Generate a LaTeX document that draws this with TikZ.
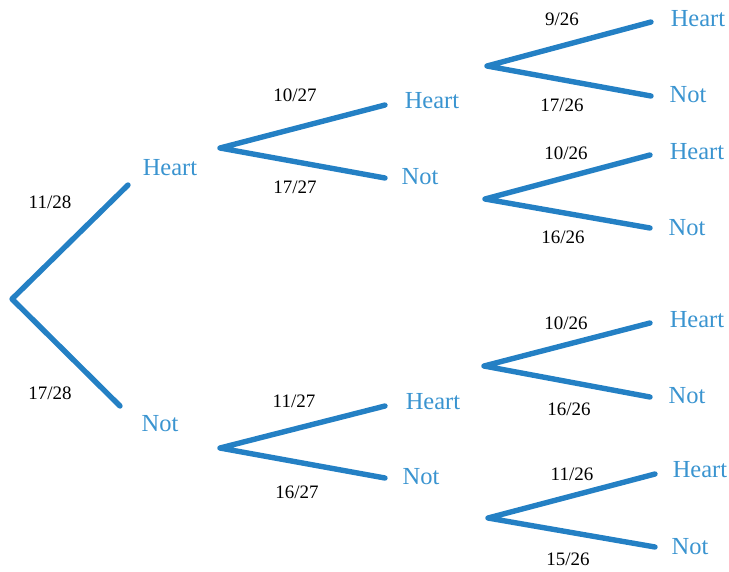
\documentclass[tikz,border=0pt]{standalone}
\usepackage{fontspec}
\setmainfont{Liberation Serif}
\definecolor{branch}{RGB}{36,128,196}
\definecolor{outc}{RGB}{58,148,208}
\begin{document}
\begin{tikzpicture}[x=1pt,y=-1pt,
  br/.style={draw=branch,line width=5.4pt,line cap=round,line join=round},
  outcome/.style={text=outc,font=\fontsize{24.5}{24.5}\selectfont,inner sep=0pt},
  prob/.style={text=black,font=\fontsize{19}{19}\selectfont,inner sep=0pt}]
\useasboundingbox (0,0) rectangle (729,571);
% level 1
\coordinate (r) at (12,299);
\coordinate (h1) at (128,185);
\coordinate (n1) at (120,406);
\draw[br] (h1) -- (r) -- (n1);
\node[outcome] (H1) at (170,168) {Heart};
\node[outcome] (N1) at (160,424) {Not};
\node[prob] (p1) at (50,202) {11/28};
\node[prob] (p2) at (50,393) {17/28};
% level 2 upper
\coordinate (f2a) at (220,148);
\coordinate (h2a) at (385,105);
\coordinate (n2a) at (385,178);
\draw[br] (h2a) -- (f2a) -- (n2a);
\node[outcome] (H2a) at (432,101) {Heart};
\node[outcome] (N2a) at (420,177) {Not};
\node[prob] (p3) at (295,95) {10/27};
\node[prob] (p4) at (295,187) {17/27};
% level 2 lower
\coordinate (f2b) at (220,448);
\coordinate (h2b) at (385,406);
\coordinate (n2b) at (385,478);
\draw[br] (h2b) -- (f2b) -- (n2b);
\node[outcome] (H2b) at (433,402) {Heart};
\node[outcome] (N2b) at (421,477) {Not};
\node[prob] (p5) at (294,401) {11/27};
\node[prob] (p6) at (297,492) {16/27};
% level 3 A
\coordinate (fA) at (487,66);
\coordinate (hA) at (651,22);
\coordinate (nA) at (651,96);
\draw[br] (hA) -- (fA) -- (nA);
\node[outcome] (HA) at (698,19) {Heart};
\node[outcome] (NA) at (688,95) {Not};
\node[prob] (pA1) at (562,19) {9/26};
\node[prob] (pA2) at (562,105) {17/26};
% level 3 B
\coordinate (fB) at (485,199);
\coordinate (hB) at (650,155);
\coordinate (nB) at (650,228);
\draw[br] (hB) -- (fB) -- (nB);
\node[outcome] (HB) at (697,152) {Heart};
\node[outcome] (NB) at (687,228) {Not};
\node[prob] (pB1) at (566,153) {10/26};
\node[prob] (pB2) at (563,237) {16/26};
% level 3 C
\coordinate (fC) at (484,366);
\coordinate (hC) at (650,323);
\coordinate (nC) at (650,397);
\draw[br] (hC) -- (fC) -- (nC);
\node[outcome] (HC) at (697,320) {Heart};
\node[outcome] (NC) at (687,396) {Not};
\node[prob] (pC1) at (566,323) {10/26};
\node[prob] (pC2) at (569,409) {16/26};
% level 3 D
\coordinate (fD) at (488,518);
\coordinate (hD) at (655,474);
\coordinate (nD) at (655,547);
\draw[br] (hD) -- (fD) -- (nD);
\node[outcome] (HD) at (700,470) {Heart};
\node[outcome] (ND) at (690,547) {Not};
\node[prob] (pD1) at (572,474) {11/26};
\node[prob] (pD2) at (568,559) {15/26};
\end{tikzpicture}
\end{document}
